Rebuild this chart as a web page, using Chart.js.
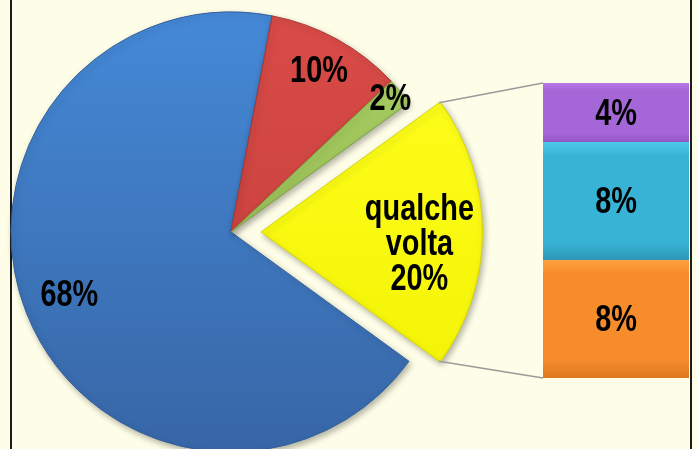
<!DOCTYPE html>
<html>
<head>
<meta charset="utf-8">
<script src="https://cdn.jsdelivr.net/npm/chart.js"></script>
<style>
  html, body { margin: 0; padding: 0; background: #fefee8; overflow: hidden; }
  #frame { position: relative; width: 698px; height: 449px; background: #fefee8; overflow: hidden; }
  #border {
    position: absolute; left: 10px; top: -10px; width: 678px; height: 480px;
    border-left: 2px solid #1c1c1c; border-right: 2px solid #1c1c1c;
  }
  canvas { position: absolute; left: 0; top: 0; }
</style>
</head>
<body>
<div id="frame">
  <div id="border"></div>
  <canvas id="pie" width="698" height="449"></canvas>
  <canvas id="bar" width="698" height="449"></canvas>
</div>
<script>
  // pie: the last slice is split out into the stacked bar on the right
  const pieLabels = ['', '', '', 'qualche volta'];
  const pieValues = [68, 10, 2, 20];
  const pieLight = ['#4589d7', '#d94b47', '#a8cf63', '#ffff20'];
  const pieDark = ['#3766a6', '#c03c39', '#8cb04c', '#f2f200'];
  const pieBorders = ['#33609d', '#ad3532', '#7f9f43', '#d6d600'];
  // Chart.js v4 moves an arc by offset / 4
  const pieOffsets = [0, 0, 0, 120];

  // bar: bottom to top
  const barLabels = ['', '', ''];
  const barValues = [8, 8, 4];
  const barLight = ['#ffa040', '#4cc8e8', '#b87ae6'];
  const barColors = ['#f68c2b', '#39b3d5', '#a566d7'];
  const barDark = ['#dc7820', '#2d98b6', '#9256c4'];

  const LABEL_FONT = 'bold 37px "Liberation Sans", Arial, sans-serif';
  const NARROW = 0.78;
  const LINE_H = 35;
  // where Excel put each pie label, as a fraction of the radius
  const labelRadius = [0.79, 0.83, 0.94, 0.72];
  const labelShiftY = [0, 0, 0, 13];

  function narrowText(ctx, text, x, y) {
    ctx.save();
    ctx.translate(x, y);
    ctx.scale(NARROW, 1);
    ctx.fillText(text, 0, 0);
    ctx.restore();
  }

  function sliceShift(i) {
    return pieOffsets[i] / 4;
  }

  function pieFill(context) {
    const chart = context.chart;
    const area = chart.chartArea;
    const i = context.dataIndex;
    if (!area || i === undefined) {
      return pieLight[i || 0];
    }
    const cy = (area.top + area.bottom) / 2;
    const g = chart.ctx.createLinearGradient(0, cy - 220, 0, cy + 220);
    g.addColorStop(0, pieLight[i]);
    g.addColorStop(1, pieDark[i]);
    return g;
  }

  function barFill(context) {
    const chart = context.chart;
    const i = context.datasetIndex;
    const y = chart.scales.y;
    if (!chart.chartArea || !y) {
      return barColors[i];
    }
    const below = barValues.slice(0, i).reduce((a, b) => a + b, 0);
    const yTop = y.getPixelForValue(below + barValues[i]);
    const yBot = y.getPixelForValue(below);
    const g = chart.ctx.createLinearGradient(0, yTop, 0, yBot);
    g.addColorStop(0, barLight[i]);
    g.addColorStop(0.12, barColors[i]);
    g.addColorStop(0.85, barColors[i]);
    g.addColorStop(1, barDark[i]);
    return g;
  }

  const shadowPlugin = {
    id: 'sliceShadow',
    beforeDatasetsDraw(chart) {
      const ctx = chart.ctx;
      ctx.save();
      ctx.shadowColor = 'rgba(0, 0, 0, 0.3)';
      ctx.shadowBlur = 6;
      ctx.shadowOffsetX = 2;
      ctx.shadowOffsetY = 3;
    },
    afterDatasetsDraw(chart) {
      chart.ctx.restore();
    },
  };

  const pieLabelPlugin = {
    id: 'pieLabels',
    afterDatasetsDraw(chart) {
      const ctx = chart.ctx;
      const arcs = chart.getDatasetMeta(0).data;
      ctx.save();
      ctx.font = LABEL_FONT;
      ctx.fillStyle = '#000';
      ctx.textAlign = 'center';
      ctx.textBaseline = 'middle';
      arcs.forEach((arc, i) => {
        const p = arc.getProps(['x', 'y', 'startAngle', 'endAngle', 'outerRadius'], true);
        const mid = (p.startAngle + p.endAngle) / 2;
        const r = p.outerRadius * labelRadius[i] + sliceShift(i);
        const cx = p.x + Math.cos(mid) * r;
        const cy = p.y + Math.sin(mid) * r + labelShiftY[i];
        const lines = pieLabels[i] ? pieLabels[i].split(' ') : [];
        lines.push(pieValues[i] + '%');
        lines.forEach((text, k) => {
          narrowText(ctx, text, cx, cy + (k - (lines.length - 1) / 2) * LINE_H);
        });
      });
      ctx.restore();
    },
  };

  const pieChart = new Chart(document.getElementById('pie'), {
    type: 'pie',
    data: {
      labels: pieLabels,
      datasets: [{
        data: pieValues,
        backgroundColor: pieFill,
        borderColor: pieBorders,
        borderWidth: 1,
        offset: pieOffsets,
        clip: false,
      }],
    },
    options: {
      responsive: false,
      animation: false,
      rotation: 126,
      radius: 220,
      layout: { padding: { left: 0, right: 236, top: 15, bottom: 0 } },
      plugins: { legend: { display: false }, tooltip: { enabled: false } },
    },
    plugins: [shadowPlugin, pieLabelPlugin],
  });

  const connectorPlugin = {
    id: 'connectors',
    beforeDatasetsDraw(chart) {
      const k = pieValues.length - 1;
      const arc = pieChart.getDatasetMeta(0).data[k];
      const p = arc.getProps(['x', 'y', 'startAngle', 'endAngle', 'outerRadius'], true);
      const mid = (p.startAngle + p.endAngle) / 2;
      const ox = p.x + Math.cos(mid) * sliceShift(k);
      const oy = p.y + Math.sin(mid) * sliceShift(k);
      const first = chart.getDatasetMeta(0).data[0];
      const last = chart.getDatasetMeta(barValues.length - 1).data[0];
      const left = first.x - first.width / 2;
      const ctx = chart.ctx;
      ctx.save();
      ctx.strokeStyle = '#9a9a9a';
      ctx.lineWidth = 1.5;
      ctx.beginPath();
      ctx.moveTo(ox + Math.cos(p.startAngle) * p.outerRadius, oy + Math.sin(p.startAngle) * p.outerRadius);
      ctx.lineTo(left, last.y);
      ctx.moveTo(ox + Math.cos(p.endAngle) * p.outerRadius, oy + Math.sin(p.endAngle) * p.outerRadius);
      ctx.lineTo(left, first.base);
      ctx.stroke();
      ctx.restore();
    },
  };

  const barLabelPlugin = {
    id: 'barLabels',
    afterDatasetsDraw(chart) {
      const ctx = chart.ctx;
      ctx.save();
      ctx.font = LABEL_FONT;
      ctx.fillStyle = '#000';
      ctx.textAlign = 'center';
      ctx.textBaseline = 'middle';
      barValues.forEach((value, i) => {
        const bar = chart.getDatasetMeta(i).data[0];
        narrowText(ctx, value + '%', bar.x, (bar.y + bar.base) / 2 + 2);
      });
      ctx.restore();
    },
  };

  new Chart(document.getElementById('bar'), {
    type: 'bar',
    data: {
      labels: [''],
      datasets: barValues.map((value, i) => ({
        label: barLabels[i],
        data: [value],
        backgroundColor: barFill,
        borderColor: barDark[i],
        borderWidth: { top: 0, left: 0, right: 0, bottom: 1 },
        borderSkipped: false,
        barPercentage: 1,
        categoryPercentage: 1,
      })),
    },
    options: {
      responsive: false,
      animation: false,
      layout: { padding: { left: 543, right: 9, top: 83, bottom: 71 } },
      scales: {
        x: { display: false, stacked: true },
        y: { display: false, stacked: true, min: 0, max: 20 },
      },
      plugins: { legend: { display: false }, tooltip: { enabled: false } },
    },
    plugins: [connectorPlugin, barLabelPlugin],
  });
</script>
</body>
</html>
